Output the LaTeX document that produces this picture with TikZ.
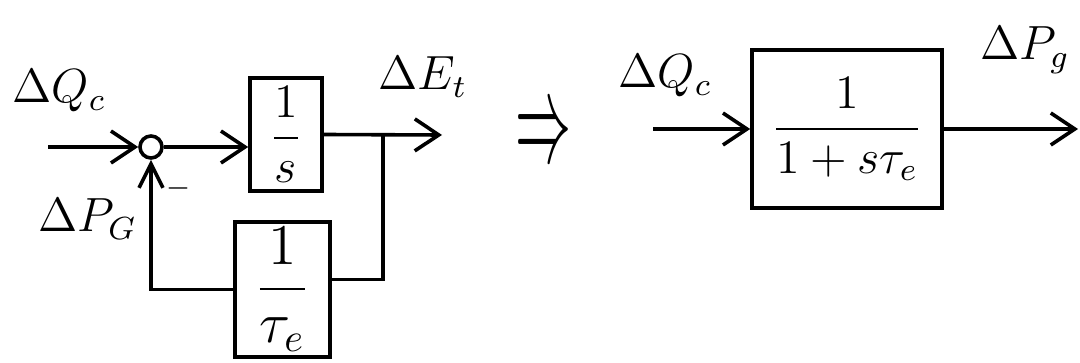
\documentclass[tikz,border=0pt]{standalone}
\usepackage{amsmath}
\usepackage{graphicx}
\usetikzlibrary{arrows.meta,calc}
\begin{document}
\begin{tikzpicture}[x=0.25pt,y=-0.25pt,
  wire/.style={line width=0.9pt},
  flow/.style={wire,-{Straight Barb[length=6pt,width=8pt,line width=0.9pt]}},
  upflow/.style={wire,-{Straight Barb[length=6pt,width=6pt,line width=0.9pt]}},
  block/.style={draw,line width=0.9pt,inner sep=0pt},
  junction/.style={draw,circle,line width=0.9pt,minimum size=5.5pt,inner sep=0pt},
  sig/.style={anchor=base west,inner sep=0pt,font=\large}]
\useasboundingbox (0,0) rectangle (1080,363);

% closed loop: summing point, integrator and feedback gain
\node[junction] (sum) at (151,147) {};
\node[block,minimum width=18pt,minimum height=28.25pt] (integ) at (286,134.5) {\large$\dfrac{1}{s}$};
\node[block,minimum width=23.75pt,minimum height=33.75pt] (gain) at (282.5,289.5) {\Large$\dfrac{1}{\tau_e}$};

% equivalent first-order lag
\node[block,minimum width=47.5pt,minimum height=39.5pt] (lag) at (847,129) {\large$\dfrac{1}{1+s\tau_e}$};

% signal names
\node[sig] (dqc) at (12,103) {$\Delta Q_c$};
\node[sig] (dpg) at (38,232) {$\Delta P_G$};
\node[sig] (det) at (378,90) {$\Delta E_t$};
\node[sig] (dqcr) at (618,88) {$\Delta Q_c$};
\node[sig] (dpgr) at (980,60) {$\Delta P_g$};
\node (minus) at (178,188) {\scriptsize$-$};
\node (implies) at (543,138) {\scalebox{1.4}[3.2]{$\Rightarrow$}};

% free ends and branch point
\coordinate (inL) at (48,147);
\coordinate (outE) at (442,135);
\coordinate (tap) at (383,135);
\coordinate (inR) at (653,129);
\coordinate (outR) at (1078,129);

% left loop wiring
\draw[flow] (inL) -- (sum);
\draw[flow] (sum) -- (sum -| integ.west);
\draw[flow] (integ.east) -- (outE);
\draw[wire] (tap) |- ($(gain.east)+(0,-10)$);
\draw[upflow] (gain.west) -| (sum.south);

% right block wiring
\draw[flow] (inR) -- (lag.west);
\draw[flow] (lag.east) -- (outR);
\end{tikzpicture}
\end{document}
